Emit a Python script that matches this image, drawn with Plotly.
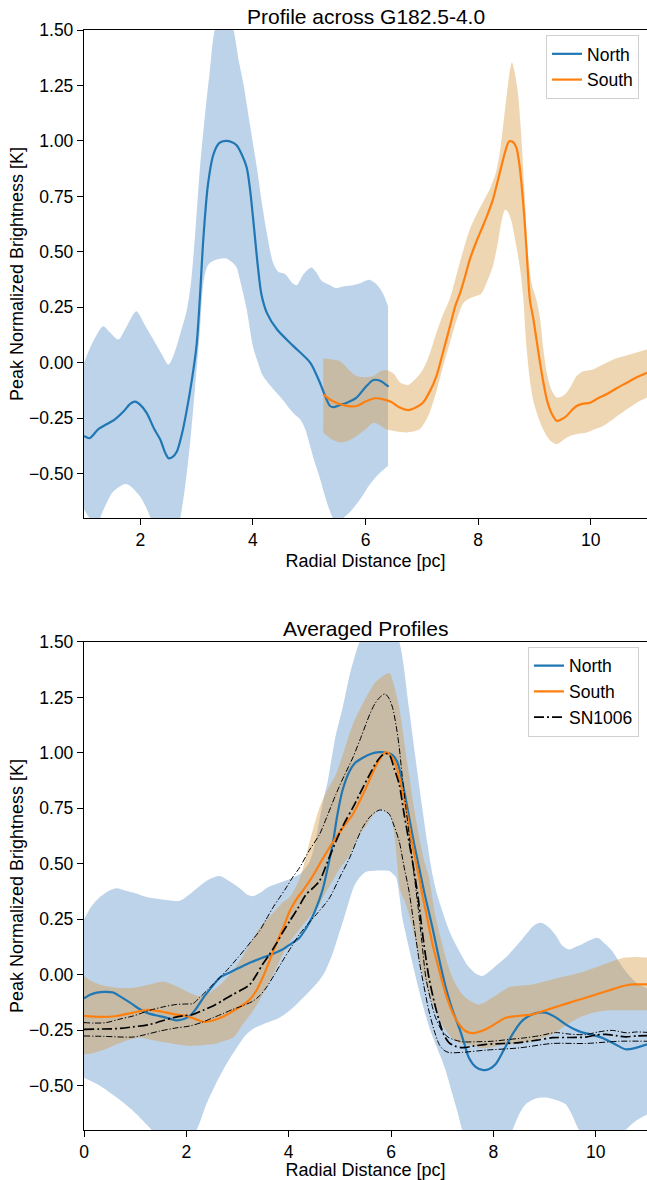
import plotly.graph_objects as go

# ---------------- Profile across G182.5-4.0 ----------------
north_x = [1.0, 1.1, 1.25, 1.40, 1.55, 1.70, 1.82, 1.91, 2.0, 2.11, 2.25, 2.35, 2.45, 2.50, 2.57, 2.65,
           2.74, 2.82, 2.92, 3.0, 3.06, 3.12, 3.20, 3.30, 3.40, 3.52, 3.62, 3.71, 3.80, 3.89, 3.95, 4.0,
           4.05, 4.09, 4.15, 4.25, 4.43, 4.72, 5.02, 5.19, 5.30, 5.37, 5.43, 5.55, 5.67, 5.84, 6.0, 6.14,
           6.25, 6.41]
north_y = [-0.33, -0.34, -0.30, -0.277, -0.255, -0.22, -0.185, -0.175, -0.19, -0.225, -0.30, -0.344, -0.41,
           -0.43, -0.425, -0.40, -0.32, -0.22, -0.07, 0.08, 0.30, 0.56, 0.80, 0.94, 0.99, 1.0, 0.995, 0.98,
           0.94, 0.88, 0.78, 0.66, 0.53, 0.43, 0.31, 0.224, 0.15, 0.075, 0.0, -0.09, -0.16, -0.195, -0.20,
           -0.19, -0.18, -0.157, -0.11, -0.078, -0.08, -0.108]

north_hi_x = [1.0, 1.15, 1.34, 1.45, 1.61, 1.75, 1.93, 2.08, 2.23, 2.38, 2.50, 2.60, 2.72, 2.82, 2.90, 2.98,
              3.06, 3.15, 3.24, 3.30, 3.40, 3.50, 3.60, 3.68, 3.75, 3.83, 3.95, 4.07, 4.16, 4.25, 4.36, 4.45,
              4.57, 4.70, 4.78, 4.90, 5.04, 5.12, 5.22, 5.37, 5.48, 5.62, 5.77, 5.92, 6.06, 6.17, 6.27, 6.35,
              6.40]
north_hi_y = [0.0, 0.09, 0.165, 0.14, 0.105, 0.16, 0.232, 0.17, 0.105, 0.04, -0.008, 0.04, 0.14, 0.23, 0.36,
              0.60, 0.88, 1.12, 1.33, 1.47, 1.58, 1.60, 1.56, 1.47, 1.36, 1.26, 1.07, 0.88, 0.72, 0.58, 0.45,
              0.41, 0.40, 0.36, 0.35, 0.40, 0.43, 0.41, 0.37, 0.35, 0.337, 0.345, 0.35, 0.36, 0.374, 0.36,
              0.33, 0.29, 0.254]

north_lo_x = [1.0, 1.1, 1.22, 1.35, 1.52, 1.75, 1.99, 2.1, 2.2, 2.35, 2.5, 2.62, 2.71, 2.80, 2.88, 2.97,
              3.06, 3.12, 3.20, 3.30, 3.45, 3.53, 3.62, 3.71, 3.77, 3.89, 4.0, 4.09, 4.18, 4.30, 4.42, 4.54,
              4.66, 4.75, 4.84, 4.93, 5.01, 5.10, 5.19, 5.28, 5.37, 5.45, 5.55, 5.65, 5.77, 5.92, 6.06, 6.20,
              6.40]
north_lo_y = [-0.66, -0.70, -0.73, -0.66, -0.58, -0.546, -0.60, -0.65, -0.71, -0.80, -0.83, -0.78, -0.70,
              -0.55, -0.374, -0.12, 0.15, 0.36, 0.44, 0.46, 0.47, 0.47, 0.455, 0.43, 0.374, 0.24, 0.075, 0.0,
              -0.06, -0.10, -0.135, -0.17, -0.21, -0.235, -0.255, -0.30, -0.37, -0.45, -0.52, -0.60, -0.67,
              -0.71, -0.71, -0.69, -0.66, -0.61, -0.554, -0.51, -0.464]

south_x = [5.25, 5.40, 5.55, 5.70, 5.84, 6.0, 6.17, 6.32, 6.46, 6.6, 6.76, 6.9, 7.02, 7.14, 7.26, 7.38,
           7.50, 7.60, 7.68, 7.77, 7.85, 7.96, 8.08, 8.17, 8.26, 8.34, 8.41, 8.48, 8.55, 8.62, 8.68, 8.73,
           8.77, 8.82, 8.86, 8.92, 8.98, 9.04, 9.10, 9.16, 9.22, 9.30, 9.40, 9.48, 9.57, 9.66, 9.75, 9.85,
           9.99, 10.13, 10.28, 10.46, 10.64, 10.82, 11.0]
south_y = [-0.142, -0.17, -0.187, -0.195, -0.195, -0.175, -0.16, -0.165, -0.177, -0.20, -0.213, -0.20, -0.18,
           -0.13, -0.06, 0.05, 0.165, 0.26, 0.314, 0.39, 0.464, 0.54, 0.613, 0.67, 0.733, 0.81, 0.882, 0.95,
           0.998, 0.995, 0.97, 0.90, 0.81, 0.66, 0.51, 0.284, 0.20, 0.10, 0.0, -0.09, -0.165, -0.225, -0.262,
           -0.255, -0.24, -0.215, -0.195, -0.185, -0.18, -0.16, -0.142, -0.115, -0.09, -0.065, -0.045]

south_hi_x = [5.25, 5.40, 5.55, 5.70, 5.84, 6.0, 6.14, 6.25, 6.37, 6.5, 6.62, 6.76, 6.9, 7.02, 7.14, 7.26,
              7.38, 7.50, 7.62, 7.74, 7.85, 7.98, 8.1, 8.22, 8.32, 8.39, 8.45, 8.51, 8.56, 8.60, 8.65, 8.71,
              8.76, 8.80, 8.84, 8.88, 8.95, 9.04, 9.10, 9.16, 9.22, 9.30, 9.40, 9.50, 9.57, 9.66, 9.75, 9.85,
              10.04, 10.2, 10.40, 10.6, 10.8, 11.0]
south_hi_y = [0.019, 0.015, 0.007, -0.03, -0.06, -0.065, -0.06, -0.04, -0.033, -0.05, -0.09, -0.10, -0.07,
              -0.03, 0.04, 0.135, 0.22, 0.29, 0.40, 0.51, 0.60, 0.673, 0.73, 0.79, 0.86, 0.957, 1.08, 1.21,
              1.31, 1.354, 1.31, 1.21, 1.05, 0.88, 0.70, 0.51, 0.36, 0.28, 0.20, 0.06, -0.045, -0.12, -0.157,
              -0.15, -0.135, -0.10, -0.06, -0.04, -0.03, -0.01, 0.015, 0.03, 0.045, 0.06]

south_lo_x = [5.25, 5.40, 5.55, 5.70, 5.84, 6.0, 6.14, 6.25, 6.37, 6.55, 6.73, 6.85, 6.96, 7.05, 7.14, 7.26,
              7.38, 7.50, 7.62, 7.74, 7.85, 7.95, 8.05, 8.15, 8.26, 8.35, 8.41, 8.48, 8.53, 8.59, 8.66, 8.74,
              8.80, 8.85, 8.92, 8.98, 9.04, 9.12, 9.22, 9.30, 9.40, 9.50, 9.63, 9.78, 9.93, 10.07, 10.22,
              10.42, 10.64, 10.82, 11.0]
south_lo_y = [-0.314, -0.345, -0.359, -0.35, -0.33, -0.30, -0.27, -0.28, -0.30, -0.31, -0.314, -0.31, -0.30,
              -0.27, -0.224, -0.13, -0.015, 0.09, 0.194, 0.27, 0.29, 0.30, 0.31, 0.36, 0.434, 0.54, 0.63, 0.69,
              0.68, 0.64, 0.55, 0.434, 0.30, 0.10, -0.08, -0.17, -0.224, -0.28, -0.33, -0.355, -0.367, -0.35,
              -0.33, -0.32, -0.314, -0.30, -0.285, -0.25, -0.21, -0.18, -0.157]

# ---------------- Averaged Profiles ----------------
avg_north_x = [0.0, 0.12, 0.25, 0.4, 0.57, 0.72, 0.90, 1.05, 1.22, 1.4, 1.55, 1.7, 1.81, 1.95, 2.07, 2.2,
               2.33, 2.5, 2.65, 2.85, 3.04, 3.25, 3.49, 3.7, 3.88, 4.05, 4.21, 4.34, 4.47, 4.6, 4.67, 4.75,
               4.86, 4.95, 5.05, 5.19, 5.3, 5.44, 5.6, 5.77, 5.92, 6.03, 6.12, 6.20, 6.28, 6.36, 6.45, 6.55,
               6.65, 6.81, 6.94, 7.07, 7.2, 7.33, 7.43, 7.52, 7.65, 7.80, 7.92, 8.04, 8.2, 8.37, 8.53, 8.69,
               8.85, 9.02, 9.2, 9.41, 9.57, 9.73, 9.92, 10.12, 10.35, 10.58, 10.78, 11.0]
avg_north_y = [-0.107, -0.09, -0.081, -0.077, -0.08, -0.10, -0.126, -0.15, -0.171, -0.183, -0.19, -0.2,
               -0.206, -0.2, -0.186, -0.15, -0.104, -0.055, -0.014, 0.01, 0.032, 0.055, 0.077, 0.095, 0.114,
               0.14, 0.167, 0.21, 0.265, 0.34, 0.39, 0.47, 0.59, 0.72, 0.83, 0.918, 0.955, 0.977, 0.995,
               1.003, 1.0, 0.99, 0.96, 0.89, 0.80, 0.70, 0.59, 0.48, 0.37, 0.21, 0.07, -0.059, -0.16, -0.239,
               -0.31, -0.374, -0.415, -0.43, -0.425, -0.404, -0.34, -0.269, -0.215, -0.186, -0.172, -0.171,
               -0.19, -0.224, -0.245, -0.26, -0.27, -0.284, -0.31, -0.336, -0.33, -0.314]

avg_north_hi_x = [0.0, 0.15, 0.31, 0.5, 0.64, 0.8, 0.96, 1.22, 1.5, 1.87, 2.05, 2.26, 2.45, 2.65, 2.85,
                  3.04, 3.2, 3.30, 3.45, 3.56, 3.82, 4.08, 4.25, 4.41, 4.52, 4.60, 4.68, 4.76, 4.82, 4.92,
                  5.05, 5.2, 5.38, 5.55, 5.77, 5.95, 6.16, 6.35, 6.48, 6.61, 6.71, 6.81, 6.9, 7.0, 7.15, 7.33,
                  7.5, 7.65, 7.78, 7.95, 8.1, 8.24, 8.45, 8.63, 8.78, 8.92, 9.05, 9.21, 9.35, 9.47, 9.6, 9.73,
                  9.88, 10.03, 10.18, 10.32, 10.45, 10.58, 10.72, 10.84, 11.0]
avg_north_hi_y = [0.25, 0.31, 0.35, 0.38, 0.39, 0.38, 0.37, 0.35, 0.34, 0.333, 0.36, 0.40, 0.43, 0.445,
                  0.42, 0.39, 0.36, 0.354, 0.37, 0.39, 0.414, 0.437, 0.46, 0.51, 0.60, 0.70, 0.79, 0.87, 0.95,
                  1.08, 1.20, 1.36, 1.50, 1.60, 1.64, 1.60, 1.50, 1.20, 0.97, 0.75, 0.59, 0.45, 0.36, 0.287,
                  0.19, 0.107, 0.04, 0.005, -0.006, 0.02, 0.05, 0.077, 0.13, 0.18, 0.22, 0.234, 0.22, 0.18,
                  0.13, 0.114, 0.125, 0.137, 0.155, 0.167, 0.14, 0.107, 0.06, 0.017, -0.02, -0.044, -0.06]

avg_north_lo_x = [0.0, 0.31, 0.64, 0.96, 1.22, 1.4, 1.6, 1.8, 2.0, 2.2, 2.39, 2.58, 2.78, 2.98, 3.17, 3.33,
                  3.49, 3.65, 3.82, 4.0, 4.15, 4.32, 4.47, 4.6, 4.7, 4.85, 4.99, 5.1, 5.19, 5.28, 5.38, 5.48,
                  5.58, 5.77, 5.97, 6.05, 6.10, 6.16, 6.22, 6.3, 6.45, 6.6, 6.75, 6.9, 7.05, 7.2, 7.3, 7.39,
                  7.55, 7.75, 7.95, 8.15, 8.37, 8.5, 8.63, 8.8, 9.02, 9.22, 9.41, 9.55, 9.67, 9.85, 10.1,
                  10.35, 10.58, 10.77, 11.0]
avg_north_lo_y = [-0.464, -0.50, -0.554, -0.614, -0.674, -0.72, -0.77, -0.79, -0.76, -0.70, -0.584, -0.49,
                  -0.404, -0.33, -0.269, -0.24, -0.224, -0.21, -0.194, -0.165, -0.134, -0.095, -0.059, -0.025,
                  0.01, 0.09, 0.19, 0.27, 0.34, 0.40, 0.437, 0.46, 0.467, 0.47, 0.467, 0.45, 0.437, 0.362,
                  0.257, 0.17, 0.02, -0.12, -0.24, -0.33, -0.42, -0.54, -0.62, -0.70, -0.80, -0.86, -0.85,
                  -0.79, -0.70, -0.63, -0.584, -0.56, -0.554, -0.565, -0.584, -0.64, -0.70, -0.76, -0.79,
                  -0.75, -0.70, -0.66, -0.63]

avg_south_x = [0.0, 0.31, 0.64, 0.96, 1.22, 1.4, 1.61, 1.8, 2.0, 2.15, 2.33, 2.45, 2.59, 2.75, 2.91, 3.08,
               3.24, 3.37, 3.49, 3.62, 3.75, 3.89, 4.02, 4.15, 4.27, 4.37, 4.47, 4.60, 4.76, 4.92, 5.08, 5.25,
               5.38, 5.51, 5.60, 5.70, 5.80, 5.90, 6.0, 6.09, 6.19, 6.29, 6.38, 6.48, 6.55, 6.61, 6.71, 6.81,
               6.94, 7.07, 7.2, 7.33, 7.46, 7.59, 7.75, 7.91, 8.08, 8.24, 8.5, 8.76, 9.02, 9.28, 9.54, 9.80,
               10.06, 10.32, 10.52, 10.71, 11.0]
avg_south_y = [-0.186, -0.19, -0.186, -0.171, -0.159, -0.162, -0.171, -0.18, -0.186, -0.198, -0.212, -0.21,
               -0.201, -0.185, -0.164, -0.14, -0.112, -0.07, -0.014, 0.06, 0.137, 0.21, 0.287, 0.34, 0.377,
               0.41, 0.445, 0.497, 0.56, 0.617, 0.67, 0.722, 0.78, 0.842, 0.89, 0.94, 0.98, 1.003, 0.985,
               0.947, 0.86, 0.752, 0.63, 0.512, 0.437, 0.36, 0.25, 0.137, 0.02, -0.089, -0.17, -0.224, -0.255,
               -0.264, -0.255, -0.239, -0.215, -0.194, -0.185, -0.179, -0.16, -0.141, -0.122, -0.104, -0.085,
               -0.066, -0.052, -0.044, -0.044]

avg_south_hi_x = [0.0, 0.15, 0.31, 0.64, 0.96, 1.29, 1.55, 1.87, 2.05, 2.26, 2.42, 2.59, 2.75, 2.91, 3.08,
                  3.24, 3.4, 3.56, 3.72, 3.88, 4.02, 4.21, 4.41, 4.60, 4.75, 4.92, 5.08, 5.25, 5.42, 5.58,
                  5.70, 5.80, 5.90, 5.97, 6.05, 6.16, 6.25, 6.35, 6.45, 6.55, 6.65, 6.74, 6.87, 7.0, 7.1, 7.2,
                  7.33, 7.46, 7.6, 7.72, 7.85, 7.97, 8.13, 8.30, 8.5, 8.76, 9.02, 9.28, 9.54, 9.80, 10.02,
                  10.25, 10.42, 10.58, 10.8, 11.0]
avg_south_hi_y = [-0.006, -0.03, -0.044, -0.059, -0.059, -0.044, -0.032, -0.059, -0.08, -0.096, -0.085,
                  -0.059, -0.025, 0.017, 0.075, 0.137, 0.2, 0.245, 0.285, 0.325, 0.35, 0.43, 0.60, 0.752,
                  0.83, 0.902, 1.01, 1.127, 1.21, 1.278, 1.32, 1.338, 1.355, 1.36, 1.31, 1.203, 1.06, 0.902,
                  0.75, 0.62, 0.51, 0.437, 0.26, 0.137, 0.05, -0.014, -0.07, -0.104, -0.125, -0.134, -0.122,
                  -0.104, -0.08, -0.056, -0.05, -0.044, -0.03, -0.014, 0.0, 0.017, 0.035, 0.054, 0.068, 0.077,
                  0.08, 0.077]

avg_south_lo_x = [0.0, 0.15, 0.31, 0.48, 0.64, 0.85, 1.09, 1.35, 1.61, 1.85, 2.07, 2.3, 2.52, 2.72, 2.91,
                  3.0, 3.10, 3.20, 3.30, 3.43, 3.56, 3.69, 3.82, 3.95, 4.08, 4.21, 4.34, 4.47, 4.60, 4.70,
                  4.80, 5.0, 5.19, 5.35, 5.51, 5.62, 5.72, 5.8, 5.9, 5.97, 6.03, 6.08, 6.12, 6.17, 6.29, 6.42,
                  6.55, 6.65, 6.74, 6.87, 7.0, 7.13, 7.26, 7.42, 7.59, 7.75, 7.9, 8.1, 8.3, 8.5, 8.8, 9.15,
                  9.4, 9.67, 9.9, 10.12, 10.35, 10.58, 11.0]
avg_south_lo_y = [-0.359, -0.355, -0.344, -0.33, -0.314, -0.295, -0.284, -0.295, -0.306, -0.316, -0.321,
                  -0.318, -0.314, -0.30, -0.284, -0.26, -0.224, -0.195, -0.164, -0.115, -0.059, 0.0, 0.062,
                  0.12, 0.167, 0.205, 0.242, 0.28, 0.317, 0.36, 0.40, 0.48, 0.54, 0.62, 0.67, 0.71, 0.737,
                  0.745, 0.735, 0.715, 0.68, 0.60, 0.50, 0.39, 0.317, 0.21, 0.062, -0.02, -0.089, -0.16,
                  -0.224, -0.27, -0.30, -0.312, -0.318, -0.33, -0.33, -0.32, -0.315, -0.31, -0.295, -0.269,
                  -0.23, -0.194, -0.175, -0.164, -0.16, -0.16, -0.16]

sn_x = [0.0, 0.3, 0.64, 0.96, 1.29, 1.5, 1.74, 1.95, 2.13, 2.33, 2.52, 2.72, 2.91, 3.08, 3.24, 3.37, 3.49,
        3.62, 3.75, 3.88, 4.02, 4.18, 4.34, 4.47, 4.60, 4.76, 4.92, 5.08, 5.25, 5.42, 5.58, 5.72, 5.84, 5.9,
        5.97, 6.06, 6.16, 6.25, 6.35, 6.44, 6.52, 6.58, 6.64, 6.74, 6.84, 6.94, 7.03, 7.13, 7.25, 7.39, 7.6,
        7.85, 8.2, 8.5, 8.85, 9.15, 9.5, 9.80, 10.0, 10.19, 10.4, 10.58, 10.8, 11.0]
sn_y = [-0.246, -0.245, -0.243, -0.235, -0.224, -0.21, -0.194, -0.185, -0.179, -0.16, -0.141, -0.115, -0.089,
        -0.068, -0.044, 0.0, 0.047, 0.09, 0.137, 0.19, 0.242, 0.30, 0.362, 0.39, 0.422, 0.51, 0.60, 0.68,
        0.752, 0.83, 0.902, 0.96, 0.992, 0.997, 0.99, 0.93, 0.857, 0.73, 0.60, 0.48, 0.362, 0.25, 0.14,
        -0.014, -0.12, -0.209, -0.27, -0.306, -0.322, -0.329, -0.322, -0.314, -0.31, -0.306, -0.295,
        -0.284, -0.283, -0.281, -0.272, -0.269, -0.275, -0.28, -0.276, -0.275]

sn_hi_x = [0.0, 0.2, 0.43, 0.7, 0.96, 1.29, 1.55, 1.81, 2.0, 2.13, 2.25, 2.39, 2.58, 2.78, 2.98, 3.17, 3.30,
           3.43, 3.56, 3.69, 3.80, 3.95, 4.08, 4.21, 4.40, 4.60, 4.76, 4.92, 5.08, 5.25, 5.42, 5.58, 5.68,
           5.77, 5.88, 5.96, 6.03, 6.10, 6.16, 6.22, 6.29, 6.37, 6.45, 6.53, 6.60, 6.68, 6.78, 6.87, 7.0,
           7.13, 7.39, 7.7, 7.97, 8.3, 8.63, 8.9, 9.21, 9.5, 9.80, 10.05, 10.32, 10.6, 10.8, 11.0]
sn_hi_y = [-0.216, -0.218, -0.216, -0.2, -0.186, -0.16, -0.145, -0.134, -0.132, -0.13, -0.105, -0.074,
           -0.03, 0.017, 0.07, 0.122, 0.16, 0.197, 0.25, 0.302, 0.34, 0.392, 0.44, 0.482, 0.56, 0.632, 0.72,
           0.812, 0.895, 0.977, 1.075, 1.172, 1.22, 1.248, 1.266, 1.245, 1.203, 1.12, 1.023, 0.89, 0.752,
           0.60, 0.45, 0.30, 0.15, -0.014, -0.12, -0.194, -0.255, -0.284, -0.302, -0.302, -0.30, -0.292,
           -0.284, -0.275, -0.261, -0.268, -0.27, -0.258, -0.251, -0.262, -0.258, -0.26]

sn_lo_x = [0.0, 0.4, 0.96, 1.2, 1.48, 1.8, 2.07, 2.3, 2.52, 2.72, 2.91, 3.1, 3.30, 3.43, 3.56, 3.72, 3.88,
           4.05, 4.21, 4.38, 4.54, 4.68, 4.80, 5.0, 5.19, 5.32, 5.44, 5.60, 5.77, 5.88, 5.97, 6.06, 6.16,
           6.25, 6.35, 6.45, 6.55, 6.64, 6.74, 6.84, 6.94, 7.03, 7.13, 7.39, 7.85, 8.5, 9.15, 9.8, 10.45,
           11.0]
sn_lo_y = [-0.276, -0.278, -0.281, -0.27, -0.254, -0.24, -0.231, -0.215, -0.194, -0.175, -0.156, -0.14,
           -0.119, -0.095, -0.059, 0.0, 0.062, 0.125, 0.182, 0.23, 0.272, 0.31, 0.347, 0.44, 0.527, 0.60,
           0.662, 0.715, 0.742, 0.738, 0.722, 0.67, 0.60, 0.49, 0.377, 0.22, 0.062, -0.05, -0.164, -0.25,
           -0.314, -0.34, -0.351, -0.35, -0.34, -0.33, -0.31, -0.31, -0.30, -0.30]

y_tick_vals = [-0.5, -0.25, 0.0, 0.25, 0.5, 0.75, 1.0, 1.25, 1.5]
y_tick_text = ["\u22120.50", "\u22120.25", "0.00", "0.25", "0.50", "0.75", "1.00", "1.25", "1.50"]
x_ticks_top = [2, 4, 6, 8, 10]
x_ticks_bottom = [0, 2, 4, 6, 8, 10]

BLUE = "#1f77b4"
ORANGE = "#ff7f0e"
BLUE_FILL = "#bdd3ea"
ORANGE_FILL = "rgba(215,152,62,0.4)"
FONT = "Liberation Sans, Arial, Helvetica, sans-serif"
SMOOTH = 0.8

fig = go.Figure()


def band(xlo, ylo, xhi, yhi, color, xa, ya):
    fig.add_trace(go.Scatter(x=xlo, y=ylo, mode="lines", line=dict(width=0, shape="spline", smoothing=SMOOTH),
                             showlegend=False, hoverinfo="skip", xaxis=xa, yaxis=ya))
    fig.add_trace(go.Scatter(x=xhi, y=yhi, mode="lines", line=dict(width=0, shape="spline", smoothing=SMOOTH),
                             fill="tonexty", fillcolor=color, showlegend=False, hoverinfo="skip",
                             xaxis=xa, yaxis=ya))


def curve(x, y, name, color, xa, ya, legend, show=True, width=2.2, dash="solid"):
    fig.add_trace(go.Scatter(x=x, y=y, mode="lines", name=name,
                             line=dict(color=color, width=width, dash=dash, shape="spline", smoothing=SMOOTH),
                             showlegend=show, legend=legend, xaxis=xa, yaxis=ya))


# top panel
band(north_lo_x, north_lo_y, north_hi_x, north_hi_y, BLUE_FILL, "x", "y")
band(south_lo_x, south_lo_y, south_hi_x, south_hi_y, ORANGE_FILL, "x", "y")
curve(north_x, north_y, "North", BLUE, "x", "y", "legend")
curve(south_x, south_y, "South", ORANGE, "x", "y", "legend")

# bottom panel
band(avg_north_lo_x, avg_north_lo_y, avg_north_hi_x, avg_north_hi_y, BLUE_FILL, "x2", "y2")
band(avg_south_lo_x, avg_south_lo_y, avg_south_hi_x, avg_south_hi_y, ORANGE_FILL, "x2", "y2")
curve(avg_north_x, avg_north_y, "North", BLUE, "x2", "y2", "legend2")
curve(avg_south_x, avg_south_y, "South", ORANGE, "x2", "y2", "legend2")
curve(sn_hi_x, sn_hi_y, "SN1006 upper", "black", "x2", "y2", "legend2", show=False, width=1.0,
      dash="6px,2px,1.2px,2px")
curve(sn_lo_x, sn_lo_y, "SN1006 lower", "black", "x2", "y2", "legend2", show=False, width=1.0,
      dash="6px,2px,1.2px,2px")
curve(sn_x, sn_y, "SN1006", "black", "x2", "y2", "legend2", width=1.7, dash="10px,3px,2px,3px")

axis_common = dict(showline=True, linecolor="black", linewidth=1.3, ticks="outside", ticklen=6,
                   tickwidth=1.3, tickcolor="black", showgrid=False, zeroline=False,
                   tickfont=dict(size=17.5, color="black", family=FONT))
x_title = dict(text="Radial Distance [pc]", font=dict(size=18, color="black", family=FONT), standoff=5)
y_title = dict(text="Peak Normalized Brightness [K]", font=dict(size=18, color="black", family=FONT),
               standoff=0)

TOP_DOM = [0.5563, 1.0]
BOT_DOM = [0.0, 0.4437]

legend_common = dict(bgcolor="rgba(255,255,255,0.85)", bordercolor="#d0d0d0", borderwidth=1,
                     font=dict(size=17.5, color="black", family=FONT), xanchor="right", yanchor="top",
                     tracegroupgap=0, traceorder="normal")

fig.update_layout(
    width=647, height=1180, autosize=False,
    margin=dict(l=84, r=0, t=30, b=48),
    paper_bgcolor="white", plot_bgcolor="white",
    font=dict(family=FONT, color="black"),
    xaxis=dict(domain=[0, 1], range=[1, 11], tickvals=x_ticks_top, anchor="y", mirror=True,
               title=x_title, **axis_common),
    yaxis=dict(domain=TOP_DOM, range=[-0.7, 1.5], tickvals=y_tick_vals, ticktext=y_tick_text,
               anchor="x", title=y_title, **axis_common),
    xaxis2=dict(domain=[0, 1], range=[0, 11], tickvals=x_ticks_bottom, anchor="y2", mirror=True,
                title=x_title, **axis_common),
    yaxis2=dict(domain=BOT_DOM, range=[-0.7, 1.5], tickvals=y_tick_vals, ticktext=y_tick_text,
                anchor="x2", title=y_title, **axis_common),
    legend=dict(x=0.9858, y=0.9955, **legend_common),
    legend2=dict(x=0.9858, y=0.4394, **legend_common),
    annotations=[
        dict(text="Profile across G182.5-4.0", x=0.5, y=TOP_DOM[1], xref="paper", yref="paper",
             xanchor="center", yanchor="bottom", showarrow=False,
             font=dict(size=21, color="black", family=FONT)),
        dict(text="Averaged Profiles", x=0.5, y=BOT_DOM[1], xref="paper", yref="paper",
             xanchor="center", yanchor="bottom", showarrow=False,
             font=dict(size=21, color="black", family=FONT)),
    ],
)

fig.write_html("out.html")
